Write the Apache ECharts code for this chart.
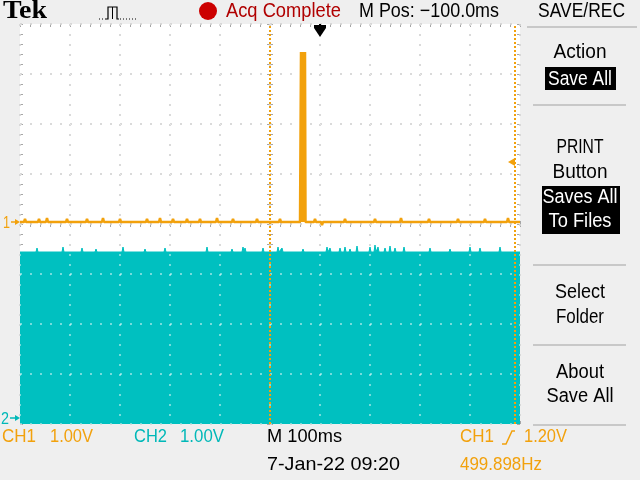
<!DOCTYPE html>
<html><head><meta charset="utf-8">
<script src="https://cdn.jsdelivr.net/npm/echarts@6/dist/echarts.min.js"></script>
<style>html,body{margin:0;padding:0;background:#EFEFEF}#c{width:640px;height:480px}</style>
</head><body><div id="c"></div>
<script>
// ---------------- data ----------------
const timeMin = -500, timeMax = 500, timeDiv = 100;      // ms from screen centre, 100 ms/div
const divMin = -4, divMax = 4;                            // vertical divisions
const ch1Offset = 0.04;                                   // CH1 ground, divisions above centre
const ch2Offset = -3.92;                                  // CH2 ground, divisions
const ch1VoltsPerDiv = 1.0, ch2VoltsPerDiv = 1.0;
const ch1Level = 0;                                       // V, idle level of CH1
const ch1Glitches = [[-490,0.06],[-476,-0.04],[-462,0.06],[-446,0.08],[-428,-0.04],[-406,0.06],[-366,0.06],[-356,-0.04],[-334,0.08],[-320,0.04],[-300,0.06],[-266,-0.04],[-246,0.06],[-234,0.04],[-220,0.08],[-194,0.06],[-180,-0.04],[-166,0.06],[-154,0.04],[-140,0.06],[-126,0.04],[-106,0.08],[-74,0.06],[-54,0.04],[-26,0.06],[-6,0.04],[20,0.06],[40,-0.04],[90,0.06],[104,-0.06],[124,0.04],[150,0.06],[176,-0.04],[210,0.06],[236,0.04],[262,0.08],[290,-0.04],[318,0.06],[350,0.04],[376,0.06],[404,-0.04],[430,0.06],[456,0.04],[476,0.08]];
const ch1Burst = [[61,0],[62,3.40],[63,0],[64,3.40],[65,0],[66,3.40],[67,0],[68,3.40],[69,0],[70,3.40],[71,0]];
const ch2High = 3.36;                                     // V, CH2 square wave high level
const ch2Glitches = [[-466,3.44],[-414,3.46],[-376,3.44],[-348,3.42],[-294,3.46],[-250,3.42],[-210,3.44],[-126,3.46],[-76,3.42],[-54,3.46],[-50,3.44],[-14,3.44],[16,3.46],[24,3.44],[66,3.42],[114,3.46],[120,3.44],[140,3.44],[150,3.46],[160,3.42],[174,3.48],[200,3.46],[210,3.5],[216,3.46],[230,3.44],[240,3.48],[250,3.44],[268,3.46],[320,3.44],[360,3.42],[400,3.46],[420,3.44],[460,3.46]];
const cursorTimes = [0, 490];
const triggerTime = 100;
const triggerLevel = 1.2;

// ---------------- build series data ----------------
function withGlitches(level, glitches, extra) {
  const pts = [[timeMin, level]];
  glitches.forEach(g => { pts.push([g[0]-2, level], [g[0], g[1]], [g[0]+2, level]); });
  (extra || []).forEach(p => pts.push(p));
  pts.push([timeMax, level]);
  pts.sort((a, b) => a[0] - b[0]);
  return pts;
}
const ch1Data = withGlitches(ch1Level, ch1Glitches, [[60, ch1Level]].concat(ch1Burst, [[72, ch1Level]]));
const ch2Data = withGlitches(ch2High, ch2Glitches);

const ORANGE = '#F2A10C', CYAN = '#00C0C0', GREY = '#A6A6A6';
const dotStyle = {color: GREY, width: 1.5, type: [2, 8]};

function gAxis(extra) {
  return Object.assign({
    type: 'value', gridIndex: 0, min: timeMin, max: timeMax, interval: timeDiv,
    axisLabel: {show: false}, axisLine: {show: false, onZero: false},
    axisTick: {show: true, inside: true, length: 3, lineStyle: {color: GREY}},
    minorTick: {show: true, splitNumber: 5, length: 3, lineStyle: {color: GREY}},
    splitLine: {show: false}
  }, extra);
}
function vAxis(extra) {
  return gAxis(Object.assign({min: divMin, max: divMax, interval: 1}, extra));
}

const chart = echarts.init(document.getElementById('c'), null, {width: 640, height: 480});
chart.setOption({
  animation: false,
  backgroundColor: '#EFEFEF',
  grid: [
    {left: 20, top: 24, width: 500, height: 400, show: true, backgroundColor: '#FFFFFF', borderWidth: 0},
    {left: 20, top: 24, width: 500, height: 400, show: false}
  ],
  xAxis: [
    gAxis({position: 'bottom', splitLine: {show: true, lineStyle: dotStyle}}),
    gAxis({position: 'top'}),
    gAxis({position: 'bottom', axisLine: {show: false, onZero: true, onZeroAxisIndex: 0}}),
    gAxis({position: 'top', axisLine: {show: false, onZero: true, onZeroAxisIndex: 0}}),
    {type: 'value', gridIndex: 1, min: timeMin, max: timeMax, interval: timeDiv, z: 4,
     axisLine: {show: false}, axisTick: {show: false}, axisLabel: {show: false},
     splitLine: {show: true, lineStyle: {color: 'rgba(255,255,255,0.6)', width: 1.5, type: [2, 8]}}}
  ],
  yAxis: [
    vAxis({position: 'left', splitLine: {show: true, lineStyle: dotStyle}}),
    vAxis({position: 'right'}),
    vAxis({position: 'left', axisLine: {show: false, onZero: true, onZeroAxisIndex: 0}}),
    vAxis({position: 'right', axisLine: {show: false, onZero: true, onZeroAxisIndex: 0}}),
    {type: 'value', gridIndex: 0, show: false, axisLine: {onZero: false},
     min: (divMin - ch1Offset) * ch1VoltsPerDiv, max: (divMax - ch1Offset) * ch1VoltsPerDiv},
    {type: 'value', gridIndex: 0, show: false, axisLine: {onZero: false},
     min: (divMin - ch2Offset) * ch2VoltsPerDiv, max: (divMax - ch2Offset) * ch2VoltsPerDiv},
    {type: 'value', gridIndex: 1, min: divMin, max: divMax, interval: 1, z: 4,
     axisLine: {show: false}, axisTick: {show: false}, axisLabel: {show: false},
     splitLine: {show: true, lineStyle: {color: 'rgba(255,255,255,0.6)', width: 1.5, type: [2, 8]}}}
  ],
  series: [
    {name: 'CH2', type: 'line', xAxisIndex: 0, yAxisIndex: 5, data: ch2Data, symbol: 'none', silent: true, z: 2,
     lineStyle: {color: CYAN, width: 1}, areaStyle: {color: CYAN, opacity: 1, origin: 'start'}},
    {name: 'CH1', type: 'line', xAxisIndex: 0, yAxisIndex: 4, data: ch1Data, symbol: 'none', silent: true, z: 5,
     lineStyle: {color: ORANGE, width: 2.5},
     markLine: {silent: true, symbol: ['none', 'none'], label: {show: false},
       lineStyle: {color: ORANGE, width: 2, type: [2, 2]},
       data: cursorTimes.map(t => ({xAxis: t}))}}
  ]
});

// ---------------- annotations ----------------
const mctx = document.createElement('canvas').getContext('2d');
const SANS = '"Liberation Sans", Arial, sans-serif';
function txt(str, x, cy, w, size, color, align, family, weight) {
  const font = (weight || 'normal') + ' ' + size + 'px ' + (family || SANS);
  mctx.font = font;
  const sx = w / mctx.measureText(str).width;
  return {type: 'text', x: x, y: cy, scaleX: sx, z: 100,
    style: {text: str, fill: color, font: font, align: align || 'left', textAlign: align || 'left',
            verticalAlign: 'middle', textVerticalAlign: 'middle'}};
}
function line(x1, y1, x2, y2, color, w, dash) {
  return {type: 'line', z: 100, shape: {x1, y1, x2, y2}, style: {stroke: color, lineWidth: w, lineDash: dash || null}};
}

const g1 = chart.convertToPixel({seriesIndex: 1}, [timeMin, ch1Level]);
const g2 = chart.convertToPixel({seriesIndex: 0}, [timeMin, 0]);
const tr = chart.convertToPixel({seriesIndex: 1}, [timeMax, triggerLevel]);
const tx = chart.convertToPixel({xAxisIndex: 0}, triggerTime);
const topY = chart.convertToPixel({yAxisIndex: 0}, divMax);

const gr = [
  // top bar
  txt('Tek', 3, 12, 44, 25, '#000', 'left', '"Liberation Serif", "Times New Roman", serif', 'bold'),
  line(99, 19, 106, 19, '#000', 1, [1, 2]),
  {type: 'polyline', z: 100, shape: {points: [[106,19],[108,19],[108,7],[117,7],[117,19],[119,19]]}, style: {stroke: '#000', lineWidth: 1.2, fill: null}},
  line(112.5, 7, 112.5, 19, '#000', 1),
  line(120, 19, 137, 19, '#000', 1, [1, 2]),
  {type: 'circle', z: 100, shape: {cx: 208, cy: 11, r: 9}, style: {fill: '#CC0000'}},
  txt('Acq Complete', 226, 11, 115, 20, '#B00000'),
  txt('M Pos: \u2212100.0ms', 359, 11, 140, 20, '#000'),
  txt('SAVE/REC', 538, 11, 87, 20, '#000'),
  line(527, 27, 637, 27, '#C8C8C8', 2),
  // right menu
  txt('Action', 580, 52, 53, 20, '#000', 'center'),
  {type: 'rect', z: 99, shape: {x: 545, y: 67, width: 71, height: 23}, style: {fill: '#000'}},
  txt('Save All', 580, 79, 64, 20, '#FFF', 'center'),
  line(533, 105, 626, 105, '#C8C8C8', 2),
  txt('PRINT', 580, 147, 47, 20, '#000', 'center'),
  txt('Button', 580, 172, 55, 20, '#000', 'center'),
  {type: 'rect', z: 99, shape: {x: 542, y: 186, width: 78, height: 48}, style: {fill: '#000'}},
  txt('Saves All', 580, 197, 75, 20, '#FFF', 'center'),
  txt('To Files', 580, 221, 63, 20, '#FFF', 'center'),
  line(533, 265, 626, 265, '#C8C8C8', 2),
  txt('Select', 580, 292, 50, 20, '#000', 'center'),
  txt('Folder', 580, 317, 48, 20, '#000', 'center'),
  line(533, 345, 626, 345, '#C8C8C8', 2),
  txt('About', 580, 372, 48, 20, '#000', 'center'),
  txt('Save All', 580, 396, 67, 20, '#000', 'center'),
  line(533, 425, 626, 425, '#C8C8C8', 2),
  // bottom readouts
  txt('CH1', 2, 437, 34, 19, ORANGE),
  txt('1.00V', 50, 437, 43, 19, ORANGE),
  txt('CH2', 134, 437, 33, 19, '#00B8B8'),
  txt('1.00V', 180, 437, 44, 19, '#00B8B8'),
  txt('M 100ms', 267, 437, 75, 19, '#000'),
  txt('CH1', 460, 437, 34, 19, ORANGE),
  {type: 'polyline', z: 100, shape: {points: [[502,444],[506,444],[512,431],[515,431]]}, style: {stroke: ORANGE, lineWidth: 1.5, fill: null}},
  txt('1.20V', 524, 437, 43, 19, ORANGE),
  txt('7-Jan-22 09:20', 267, 465, 133, 19, '#000'),
  txt('499.898Hz', 460, 465, 82, 19, ORANGE),
  // channel ground markers
  txt('1', 3, g1[1] + 1, 7, 17, ORANGE),
  line(11, g1[1], 18, g1[1], ORANGE, 1.5),
  {type: 'polygon', z: 100, shape: {points: [[15, g1[1]-3],[20, g1[1]],[15, g1[1]+3]]}, style: {fill: ORANGE}},
  txt('2', 1, g2[1] - 1, 8, 17, '#00B8B8'),
  line(10, g2[1] - 2, 18, g2[1] - 2, '#00B8B8', 1.5),
  {type: 'polygon', z: 100, shape: {points: [[15, g2[1]-5],[20, g2[1]-2],[15, g2[1]+1]]}, style: {fill: '#00B8B8'}},
  // trigger level arrow
  {type: 'polygon', z: 100, shape: {points: [[tr[0]-12, tr[1]],[tr[0]-5, tr[1]-4],[tr[0]-5, tr[1]+4]]}, style: {fill: ORANGE}},
  // trigger position marker
  {type: 'rect', z: 100, shape: {x: tx - 6, y: topY + 1, width: 12, height: 3}, style: {fill: '#000'}},
  {type: 'polygon', z: 100, shape: {points: [[tx-6, topY+4],[tx+6, topY+4],[tx, topY+13]]}, style: {fill: '#000'}},
  {type: 'rect', z: 100, shape: {x: tx - 1, y: topY, width: 2, height: 6}, style: {fill: '#000'}}
];
chart.setOption({graphic: gr});
</script></body></html>
